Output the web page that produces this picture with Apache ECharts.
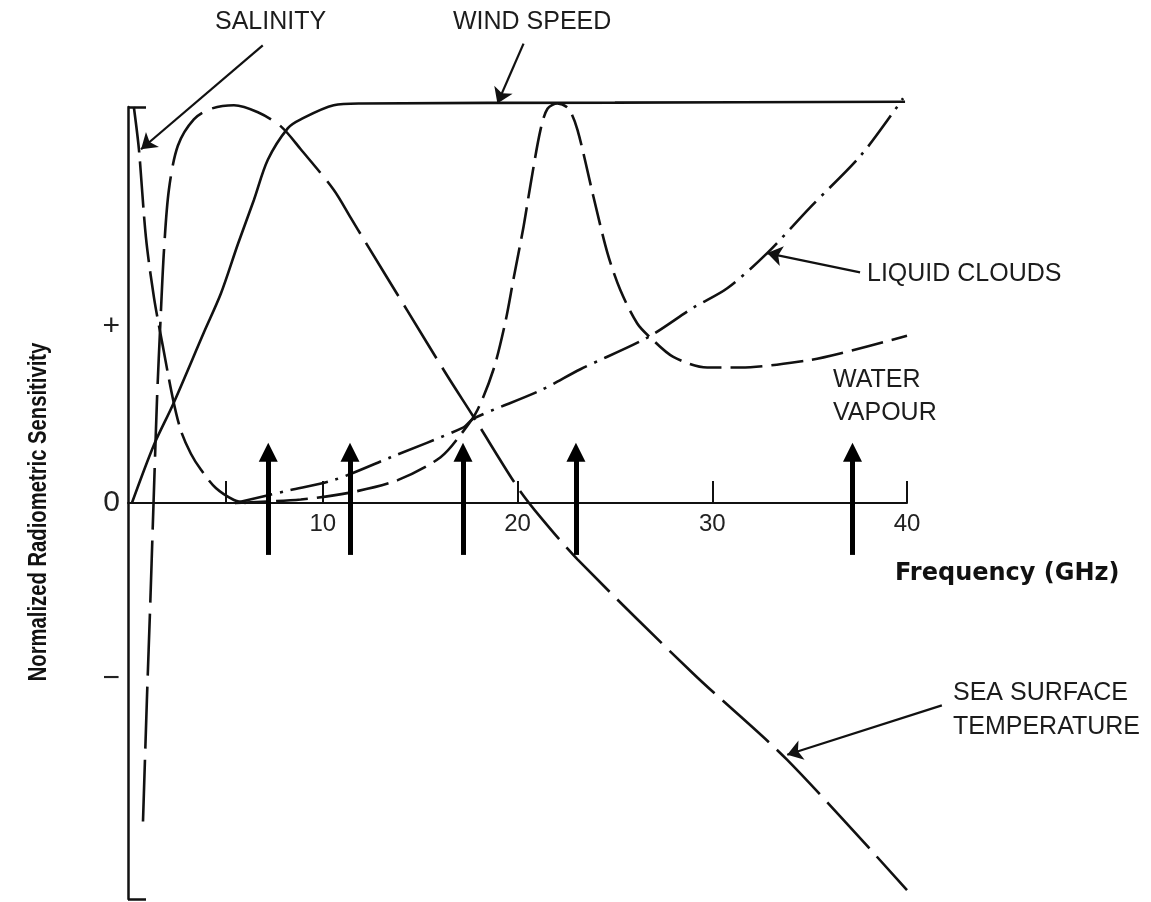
<!DOCTYPE html>
<html><head><meta charset="utf-8">
<style>html,body{margin:0;padding:0;background:#fff}#c{width:1151px;height:902px}</style>
<script src="https://cdn.jsdelivr.net/npm/echarts@6/dist/echarts.min.js"></script>
</head><body><div id="c"></div>
<script>
// ---------- DATA ----------
// x = frequency (GHz), y = normalized radiometric sensitivity ("+" = 1, "-" = -1)
const freqTickValues = [5, 10, 20, 30, 40];
const freqTickLabels = [10, 20, 30, 40];
const sensTickLabels = [-1, 0, 1];
const sensTickText = { '-1': '\u2212', '0': '0', '1': '+' };

const salinity = [
  [0.3, 2.25], [0.56, 2.01], [0.92, 1.51], [1.33, 1.17], [1.79, 0.89], [2.31, 0.59],
  [2.72, 0.41], [3.23, 0.28], [3.74, 0.19], [4.51, 0.085], [5.44, 0.017], [6.05, 0.0]
];
const windSpeed = [
  [0.2, 0.0], [1.33, 0.33], [2.31, 0.56], [3.9, 0.97], [4.77, 1.19], [5.64, 1.47],
  [6.46, 1.72], [7.18, 1.95], [8.21, 2.13], [8.87, 2.18], [10.56, 2.26], [11.95, 2.27],
  [25.0, 2.275], [39.9, 2.28]
];
const seaSurfaceTemperature = [
  [0.77, -1.81], [0.97, -1.12], [1.15, -0.55], [1.27, -0.14], [1.35, 0.13], [1.49, 0.59],
  [1.67, 1.04], [1.85, 1.44], [2.1, 1.78], [2.56, 2.03], [3.38, 2.18], [4.26, 2.24],
  [5.44, 2.26], [6.67, 2.22], [7.85, 2.14], [8.87, 2.01], [10.56, 1.78], [11.44, 1.62],
  [12.15, 1.49], [14.36, 1.09], [16.41, 0.72], [17.74, 0.49], [20.0, 0.09], [21.18, -0.08],
  [23.08, -0.32], [29.03, -0.97], [33.85, -1.46], [40.0, -2.2]
];
const waterVapour = [
  [5.5, 0.0], [8.87, 0.02], [11.44, 0.06], [13.85, 0.13], [16.05, 0.26], [17.23, 0.41],
  [17.95, 0.53], [18.77, 0.76], [19.38, 1.03], [19.79, 1.27], [20.31, 1.57], [20.67, 1.81],
  [21.18, 2.12], [21.54, 2.24], [22.05, 2.27], [22.62, 2.24], [23.08, 2.12], [23.9, 1.74],
  [24.62, 1.42], [25.28, 1.21], [26.15, 1.02], [26.82, 0.94], [28.0, 0.83], [29.74, 0.77],
  [31.44, 0.77], [34.87, 0.81], [36.56, 0.85], [40.0, 0.95]
];
const liquidClouds = [
  [5.5, 0.0], [8.21, 0.07], [10.56, 0.13], [13.49, 0.26], [17.23, 0.43], [17.74, 0.48],
  [21.18, 0.64], [23.23, 0.76], [26.67, 0.94], [29.03, 1.11], [30.77, 1.22], [32.82, 1.42],
  [35.03, 1.68], [37.59, 1.97], [39.49, 2.25], [39.8, 2.3]
];
// radiometer channel frequencies marked with the thick arrows (GHz)
const channelFrequencies = [7.2, 11.4, 17.2, 23.0, 37.2];

// ---------- LAYOUT ----------
const INK = '#111';
const channelArrowSpan = [-0.295, 0.288];
const calloutArrows = [
  { from: [6.92, 2.60], to: [0.67, 2.01] },    // SALINITY
  { from: [20.31, 2.61], to: [18.97, 2.27] },  // WIND SPEED
  { from: [37.59, 1.31], to: [32.82, 1.42] },  // LIQUID CLOUDS
  { from: [41.79, -1.15], to: [33.85, -1.43] } // SEA SURFACE TEMPERATURE
];
const labelFont = '25px "Liberation Sans", Arial, sans-serif';
const labels = [
  { text: 'SALINITY', x: 215, y: 22 },
  { text: 'WIND SPEED', x: 453, y: 22 },
  { text: 'LIQUID CLOUDS', x: 867, y: 274 },
  { text: 'WATER', x: 833, y: 380 },
  { text: 'VAPOUR', x: 833, y: 413 },
  { text: 'SEA SURFACE', x: 953, y: 693 },
  { text: 'TEMPERATURE', x: 953, y: 727 }
];

function curve(name, data, dash) {
  return {
    name, type: 'line', data, smooth: 0.3, showSymbol: false, symbol: 'none', clip: false,
    lineStyle: { color: INK, width: 2.6, type: dash, cap: 'butt' }, z: 3
  };
}

const chart = echarts.init(document.getElementById('c'), null, { renderer: 'canvas' });
chart.setOption({
  animation: false,
  backgroundColor: '#fff',
  grid: { left: 128, right: 244, top: 107, bottom: 3, containLabel: false, outerBoundsMode: 'none' },
  xAxis: {
    type: 'value', min: 0, max: 40, position: 'bottom', offset: -396,
    axisLine: { show: true, onZero: false, lineStyle: { color: INK, width: 2 } },
    axisTick: { show: true, inside: true, length: 22, customValues: freqTickValues, lineStyle: { color: INK, width: 2 } },
    axisLabel: { show: true, customValues: freqTickLabels, margin: 9, fontSize: 24, fontFamily: '"Liberation Sans", Arial', color: '#222' },
    splitLine: { show: false }
  },
  yAxis: {
    type: 'value', min: -2.25, max: 2.25,
    axisLine: { show: true, onZero: false, lineStyle: { color: INK, width: 2.5 } },
    axisTick: { show: true, inside: true, length: 18, customValues: [-2.25, 2.25], lineStyle: { color: INK, width: 2.5 } },
    axisLabel: { show: true, customValues: sensTickLabels, margin: 8, fontSize: 30, fontFamily: '"Liberation Sans", Arial', color: '#222',
      formatter: v => sensTickText[String(Math.round(v))] },
    splitLine: { show: false }
  },
  series: [
    curve('Salinity', salinity, [46, 9]),
    curve('Wind speed', windSpeed, 'solid'),
    curve('Sea surface temperature', seaSurfaceTemperature, [62, 11]),
    curve('Water vapour', waterVapour, [32, 9]),
    curve('Liquid clouds', liquidClouds, [38, 8, 3, 8]),
    {
      name: 'Channels', type: 'lines', coordinateSystem: 'cartesian2d', clip: false, z: 4,
      symbol: ['none', 'triangle'], symbolSize: [21, 19],
      lineStyle: { color: '#000', width: 5, opacity: 1, curveness: 0 },
      data: channelFrequencies.map(f => ({ coords: [[f, channelArrowSpan[0]], [f, channelArrowSpan[1]]] }))
    },
    {
      name: 'Callouts', type: 'lines', coordinateSystem: 'cartesian2d', clip: false, z: 4,
      symbol: ['none', 'arrow'], symbolSize: [11, 15],
      lineStyle: { color: INK, width: 2.2, opacity: 1, curveness: 0 },
      data: calloutArrows.map(a => ({ coords: [a.from, a.to] }))
    }
  ],
  graphic: [
    ...labels.map(l => ({
      type: 'text', x: l.x, y: l.y,
      style: { text: l.text, font: labelFont, fill: '#1c1c1c', align: 'left', verticalAlign: 'middle', textAlign: 'left', textVerticalAlign: 'middle' }
    })),
    {
      type: 'text', x: 895, y: 574,
      style: { text: 'Frequency (GHz)', font: 'bold 24px "DejaVu Sans", sans-serif', fill: '#111', align: 'left', verticalAlign: 'middle', textAlign: 'left', textVerticalAlign: 'middle' }
    },
    {
      type: 'text', x: 39, y: 512, rotation: Math.PI / 2, scaleX: 0.81,
      style: { text: 'Normalized Radiometric Sensitivity', font: 'bold 25px "Liberation Sans", Arial, sans-serif', fill: '#111', align: 'center', verticalAlign: 'middle', textAlign: 'center', textVerticalAlign: 'middle' }
    }
  ]
});
</script></body></html>
